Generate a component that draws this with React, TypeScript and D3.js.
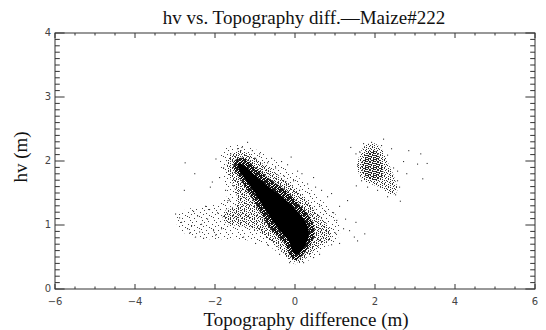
import React from "react";
import * as d3 from "d3";

const W = 546;
const H = 330;
const PL = 55, PR = 535, PT = 33, PB = 289;

const xTickValues = [-6, -4, -2, 0, 2, 4, 6];
const yTickValues = [0, 1, 2, 3, 4];
const titleText = "hv vs. Topography diff.\u2014Maize#222";
const xTitle = "Topography difference (m)";
const yTitle = "hv (m)";

// density regions of the point cloud (data units)
const coreBlack: [number, number][] = [
  [-1.33, 1.95], [-0.95, 1.75], [-0.6, 1.57], [-0.3, 1.43], [-0.02, 1.27], [0.2, 1.1],
  [0.33, 0.95], [0.33, 0.8], [0.22, 0.65], [0.08, 0.55], [-0.05, 0.58], [-0.15, 0.75],
  [-0.45, 0.97], [-0.75, 1.25], [-1.0, 1.5], [-1.2, 1.68], [-1.4, 1.86], [-1.43, 1.95],
];
const denseZone: [number, number][] = [
  [-1.3, 2.05], [-0.9, 1.85], [-0.55, 1.68], [-0.25, 1.55], [0.05, 1.36], [0.3, 1.18],
  [0.47, 1.0], [0.47, 0.8], [0.32, 0.63], [0.15, 0.5], [0.04, 0.45], [-0.1, 0.5],
  [-0.25, 0.7], [-0.6, 0.93], [-0.92, 1.25], [-1.15, 1.5], [-1.35, 1.7], [-1.52, 1.86],
  [-1.52, 2.0],
];
const mediumZone: [number, number][] = [
  [-1.58, 2.12], [-1.3, 2.16], [-0.9, 2.0], [-0.5, 1.82], [-0.1, 1.62], [0.3, 1.38],
  [0.6, 1.15], [0.85, 0.97], [0.9, 0.8], [0.7, 0.7], [0.4, 0.55], [0.12, 0.42],
  [-0.1, 0.45], [-0.4, 0.64], [-0.7, 0.8], [-1.0, 0.92], [-1.3, 0.98], [-1.6, 1.0],
  [-1.8, 1.08], [-1.75, 1.22], [-1.45, 1.32], [-1.48, 1.52], [-1.66, 1.8], [-1.7, 2.0],
];
const sparseZone: [number, number][] = [
  [-1.75, 2.2], [-1.3, 2.25], [-0.8, 2.12], [-0.3, 1.92], [0.2, 1.68], [0.6, 1.42],
  [1.0, 1.18], [1.15, 0.95], [1.05, 0.78], [0.7, 0.62], [0.35, 0.45], [0.1, 0.38],
  [-0.2, 0.45], [-0.6, 0.65], [-1.1, 0.75], [-1.6, 0.78], [-2.2, 0.78], [-2.7, 0.85],
  [-2.95, 1.0], [-2.9, 1.18], [-2.5, 1.28], [-2.0, 1.32], [-1.7, 1.45], [-1.8, 1.75],
  [-1.9, 2.0],
];
const rightOuter: [number, number][] = [
  [1.58, 2.02], [1.72, 2.22], [1.95, 2.28], [2.15, 2.2], [2.32, 1.98], [2.48, 1.75],
  [2.55, 1.52], [2.4, 1.48], [2.15, 1.58], [1.9, 1.64], [1.68, 1.72], [1.56, 1.88],
];
const rightInner: [number, number][] = [
  [1.68, 1.98], [1.82, 2.14], [2.02, 2.15], [2.16, 1.98], [2.2, 1.78], [2.05, 1.7],
  [1.85, 1.72], [1.7, 1.82],
];

// individual scattered points (data units)
const scatterX = [
  -2.76, -3.0, -2.78, -2.52, -2.13, -1.99, -2.08, -1.69, 1.38, 1.51, 3.05, 3.29, 3.13, 3.18,
  2.83, 2.78, 1.3, 1.51, 1.73, 1.47, 1.55, 1.03, 0.9, 0.5, 0.16, -0.11, -0.9, -1.34, -1.08,
  -2.6, -2.4, -2.2, -2.45, -2.7, -2.3, -2.05, -1.95, -2.15, -2.55, -2.85, -2.65, -2.35, -2.0,
  -1.85, -2.5, -2.9, -2.25,
  -1.8, -1.9, -1.75, -1.62, -1.45, -1.0, -0.7, -0.5, -0.3, -0.05, 0.1, 0.35, 0.6, 0.75, 0.95,
  0.3, -0.2, -0.6, 1.1, 0.8,
  0.9, 1.0, 1.2, 1.1, 0.6, 0.45, 0.2, -0.15, -0.4, -0.7, -1.0, -1.3,
  1.55, 1.6, 1.7, 1.9, 2.15, 2.3, 2.45, 2.55, 2.6, 2.5, 2.3, 2.05, 1.8, 1.65, 2.7, 2.4, 2.55,
  -1.55, -1.65, -1.2, 0.45, 0.65, 1.25, 1.35, 0.05, -0.35, 2.62, 2.2, 1.52,
];
const scatterY = [
  1.98, 1.18, 1.55, 1.81, 1.6, 2.04, 1.68, 1.39, 2.22, 2.12, 1.96, 1.97, 2.12, 1.73,
  2.17, 1.81, 1.39, 1.05, 0.87, 0.82, 0.76, 1.08, 1.5, 1.6, 1.81, 2.07, 2.12, 2.22, 2.17,
  1.0, 0.9, 1.1, 1.15, 0.95, 0.8, 0.92, 1.2, 1.25, 1.22, 1.05, 0.88, 1.02, 0.85,
  0.95, 0.82, 1.12, 1.3,
  1.9, 1.75, 1.55, 2.12, 2.2, 2.05, 1.98, 1.9, 1.78, 1.7, 1.55, 1.5, 1.3, 1.22, 1.2,
  1.65, 1.95, 2.05, 1.3, 1.45,
  0.7, 0.88, 0.95, 0.72, 0.55, 0.5, 0.42, 0.42, 0.55, 0.7, 0.72, 0.82,
  1.95, 2.15, 2.28, 2.3, 2.25, 2.1, 1.9, 1.7, 1.6, 1.48, 1.45, 1.55, 1.6, 1.7, 2.0, 2.2, 1.85,
  1.62, 1.4, 2.3, 1.75, 1.55, 1.1, 0.92, 1.85, 2.0, 1.38, 2.35, 1.62,
];

// stipple textures (style only)
const densePat = [
  "#.##.#.#",
  ".##.###.",
  "##.#.#.#",
  "#.###.##",
  ".#.#.##.",
  "###.#.##",
  "#.##.#.#",
  ".#.###.#",
];
const midPat = [
  "#..#.#..",
  ".#...#.#",
  "..#.#...",
  "#....#.#",
  ".#.#....",
  "...#.#.#",
  "#.#.....",
  "..#..#.#",
];
const mediumPat = [
  "#...#...",
  "..#...#.",
  ".#..#...",
  "....#.#.",
  "#.#.....",
  "...#..#.",
  ".#...#..",
  "#.....#.",
];
const sparsePat = [
  ".......#....",
  ".........#..",
  "..#.........",
  "............",
  "..........#.",
  "....#.......",
  "#...........",
  "............",
  "........#...",
  "..#.........",
  "...........#",
  ".....#......",
];

function Pattern({ id, rows, color }: { id: string; rows: string[]; color: string }) {
  const cells: JSX.Element[] = [];
  rows.forEach((r, j) =>
    r.split("").forEach((c, i) => {
      if (c === "#") cells.push(<rect key={`${i}-${j}`} x={i} y={j} width={1} height={1} fill={color} />);
    })
  );
  return (
    <pattern id={id} x={0} y={0} width={rows[0].length} height={rows.length} patternUnits="userSpaceOnUse">
      {cells}
    </pattern>
  );
}

export default function App() {
  const x = d3.scaleLinear().domain([-6, 6]).range([PL, PR]);
  const y = d3.scaleLinear().domain([0, 4]).range([PB, PT]);
  const area = d3
    .line<[number, number]>()
    .x((d) => x(d[0]))
    .y((d) => y(d[1]))
    .curve(d3.curveCatmullRomClosed.alpha(0.5));

  const xMinor = x.ticks(24);
  const yMinor = y.ticks(40);
  const fmt = d3.format("d");
  const xLenMaj = 5, xLenMin = 2.5, yLenMaj = 9.6, yLenMin = 4.8;
  const axisColor = "#333";
  const labelFont = "'DejaVu Sans', sans-serif";

  return (
    <svg width={W} height={H} style={{ position: "absolute", left: 0, top: 0, background: "#fff" }}>
      <defs>
        <Pattern id="pDense" rows={densePat} color="#111" />
        <Pattern id="pMid" rows={midPat} color="#222" />
        <Pattern id="pMed" rows={mediumPat} color="#333" />
        <Pattern id="pSparse" rows={sparsePat} color="#444" />
        <clipPath id="plotClip">
          <rect x={PL} y={PT} width={PR - PL} height={PB - PT} />
        </clipPath>
      </defs>
      <rect width={W} height={H} fill="#fff" />

      <g clipPath="url(#plotClip)">
        <path d={area(sparseZone) || ""} fill="url(#pSparse)" />
        <path d={area(mediumZone) || ""} fill="url(#pMed)" />
        <path d={area(denseZone) || ""} fill="url(#pDense)" />
        <path d={area(coreBlack) || ""} fill="#000" />
        <path d={area(rightOuter) || ""} fill="url(#pMed)" />
        <path d={area(rightInner) || ""} fill="url(#pMid)" />
        {scatterX.map((v, i) => (
          <rect key={i} x={x(v)} y={y(scatterY[i])} width={1.1} height={1.1} fill="#333" />
        ))}
      </g>

      {/* frame */}
      <rect x={PL} y={PT} width={PR - PL} height={PB - PT} fill="none" stroke={axisColor} strokeWidth={1} />

      {xMinor.map((t) => {
        const major = xTickValues.includes(t);
        const len = major ? xLenMaj : xLenMin;
        return (
          <g key={`xt${t}`} stroke={axisColor} strokeWidth={1}>
            <line x1={x(t)} x2={x(t)} y1={PB} y2={PB - len} />
            <line x1={x(t)} x2={x(t)} y1={PT} y2={PT + len} />
          </g>
        );
      })}
      {yMinor.map((t) => {
        const major = yTickValues.includes(Math.round(t * 10) / 10);
        const len = major ? yLenMaj : yLenMin;
        return (
          <g key={`yt${t}`} stroke={axisColor} strokeWidth={1}>
            <line x1={PL} x2={PL + len} y1={y(t)} y2={y(t)} />
            <line x1={PR} x2={PR - len} y1={y(t)} y2={y(t)} />
          </g>
        );
      })}

      {xTickValues.map((t) => (
        <text key={`xl${t}`} x={x(t)} y={305} textAnchor="middle" fontFamily={labelFont} fontSize={10} fill="#444">
          {fmt(t)}
        </text>
      ))}
      {yTickValues.map((t) => (
        <text key={`yl${t}`} x={51} y={y(t) + 3} textAnchor="end" fontFamily={labelFont} fontSize={10} fill="#444">
          {fmt(t)}
        </text>
      ))}

      <text x={304} y={24} textAnchor="middle" fontFamily="'Liberation Serif', serif" fontSize={19} fill="#111">
        {titleText}
      </text>
      <text x={306} y={326} textAnchor="middle" fontFamily="'Liberation Serif', serif" fontSize={19} fill="#111">
        {xTitle}
      </text>
      <text
        transform={`translate(27,${157}) rotate(-90)`}
        textAnchor="middle"
        fontFamily="'Liberation Serif', serif"
        fontSize={19}
        fill="#111"
      >
        {yTitle}
      </text>
    </svg>
  );
}
